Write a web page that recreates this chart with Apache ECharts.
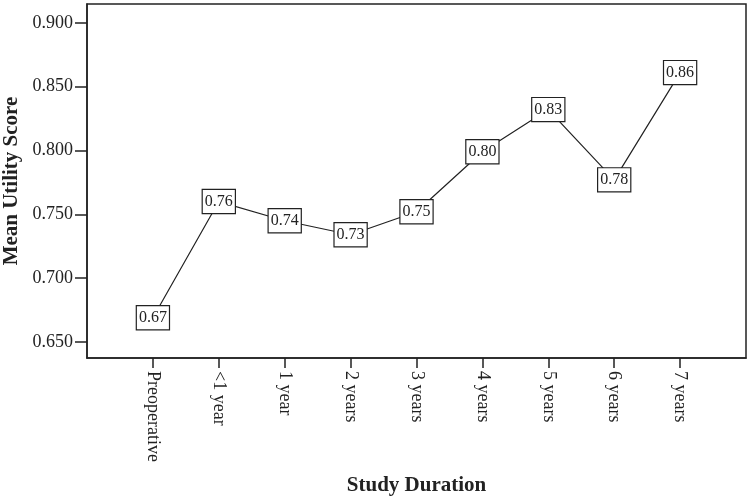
<!DOCTYPE html>
<html>
<head>
<meta charset="utf-8">
<script src="https://cdn.jsdelivr.net/npm/echarts@6/dist/echarts.min.js"></script>
<style>
	html, body { margin: 0; padding: 0; background: #fff; }
	#main { width: 750px; height: 500px; }
</style>
</head>
<body>
<div id="main"></div>
<script>
// 数据
const categories = ['Preoperative', '<1 year', '1 year', '2 years', '3 years', '4 years', '5 years', '6 years', '7 years'];
const meanUtility = [0.669, 0.760, 0.745, 0.734, 0.752, 0.799, 0.832, 0.777, 0.861];
const yTicks = [0.650, 0.700, 0.750, 0.800, 0.850, 0.900];

const serif = "'Liberation Serif', 'DejaVu Serif', serif";
const ink = '#222';

// 两端各留一个空类目, 让点落在框内
const xData = [''].concat(categories, ['']);
const seriesData = ['-'].concat(meanUtility, ['-']);

const chart = echarts.init(document.getElementById('main'));

chart.setOption({
	animation: false,
	backgroundColor: '#fff',
	grid: {
		left: 87, right: 4, top: 4, bottom: 142,
		outerBoundsMode: 'none',
		containLabel: false,
		show: true,
		borderColor: ink,
		borderWidth: 1.5
	},
	xAxis: {
		type: 'category',
		data: xData,
		boundaryGap: false,
		name: 'Study Duration',
		nameLocation: 'middle',
		nameGap: 117,
		nameTextStyle: { fontFamily: serif, fontWeight: 'bold', fontSize: 21, color: ink },
		axisLine: { lineStyle: { color: ink, width: 1.5 } },
		axisTick: {
			length: 10,
			lineStyle: { color: ink, width: 1.5 },
			interval: (index) => index > 0 && index < xData.length - 1
		},
		axisLabel: {
			interval: 0,
			rotate: -90,
			margin: 13,
			fontFamily: serif,
			fontSize: 18,
			color: ink
		},
		splitLine: { show: false }
	},
	yAxis: {
		type: 'value',
		min: 0.6375,
		max: 0.9147,
		name: 'Mean Utility Score',
		nameLocation: 'middle',
		nameGap: 64,
		nameTextStyle: { fontFamily: serif, fontWeight: 'bold', fontSize: 21, color: ink },
		axisLine: { show: true, lineStyle: { color: ink, width: 1.5 } },
		axisTick: {
			show: true,
			length: 12,
			customValues: yTicks,
			lineStyle: { color: ink, width: 1.5 }
		},
		axisLabel: {
			customValues: yTicks,
			margin: 14,
			formatter: (v) => v.toFixed(3),
			fontFamily: serif,
			fontSize: 18,
			color: ink
		},
		splitLine: { show: false }
	},
	series: [{
		type: 'line',
		data: seriesData,
		symbol: 'rect',
		symbolSize: 1,
		itemStyle: { color: '#fff' },
		lineStyle: { color: ink, width: 1.2 },
		label: {
			show: true,
			position: 'inside',
			formatter: (p) => Number(p.value).toFixed(2),
			fontFamily: serif,
			fontSize: 16,
			color: ink,
			backgroundColor: '#fff',
			borderColor: ink,
			borderWidth: 1.2,
			padding: [4, 2, 3, 2]
		}
	}]
});
</script>
</body>
</html>
